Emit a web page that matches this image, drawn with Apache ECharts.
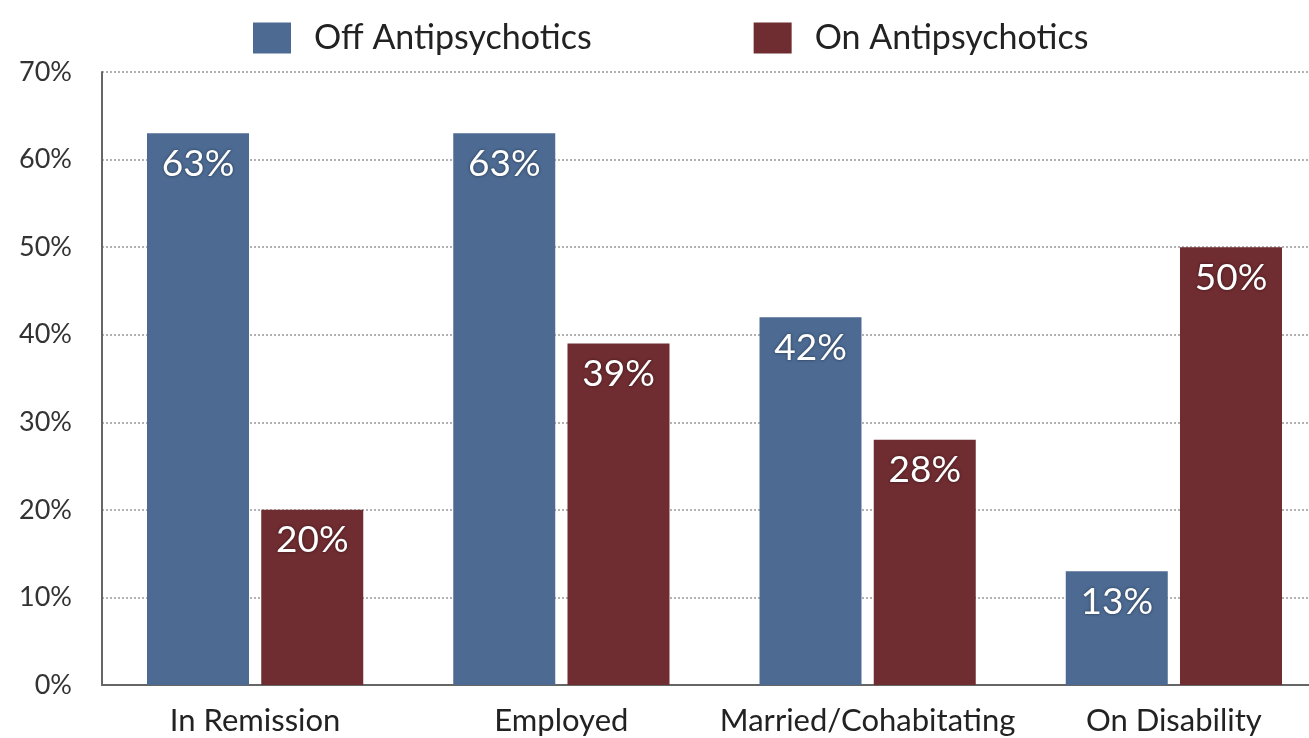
<!DOCTYPE html>
<html>
<head>
<meta charset="utf-8">
<script src="https://cdn.jsdelivr.net/npm/echarts@6/dist/echarts.min.js"></script>
<style>html,body{margin:0;padding:0;background:#fff;}#c{width:1309px;height:738px;}</style>
</head>
<body>
<div id="c"></div>
<script>
const categories = ['In Remission', 'Employed', 'Married/Cohabitating', 'On Disability'];
const offAntipsychotics = [63, 63, 42, 13];
const onAntipsychotics = [20, 39, 28, 50];
const seriesNames = ['Off Antipsychotics', 'On Antipsychotics'];

const chart = echarts.init(document.getElementById('c'));
const font = 'Lato, "Open Sans", sans-serif';
const labelCfg = {
  show: true, position: 'insideTop', distance: 12,
  color: '#fff', fontSize: 37, fontFamily: font,
  formatter: p => p.value + '%',
  textShadowColor: 'rgba(0,0,0,0.5)', textShadowBlur: 3
};
chart.setOption({
  animation: false,
  legend: {
    top: 16, left: 248, itemGap: 162, itemWidth: 38, itemHeight: 31, icon: 'rect',
    textStyle: { fontSize: 34, fontFamily: font, color: '#222', padding: [0, 0, 0, 18] },
    data: seriesNames
  },
  grid: { left: 102, width: 1225, top: 72, bottom: 53, containLabel: false, outerBoundsMode: 'none' },
  xAxis: {
    type: 'category', data: categories,
    axisLine: { lineStyle: { color: '#666', width: 2 } },
    axisTick: { show: false },
    axisLabel: { fontSize: 31, fontFamily: font, color: '#222', margin: 20, interval: 0 }
  },
  yAxis: {
    type: 'value', min: 0, max: 70, interval: 10,
    axisLine: { show: true, lineStyle: { color: '#666', width: 2 } },
    axisTick: { show: false },
    axisLabel: { formatter: '{value}%', fontSize: 27, fontFamily: font, color: '#333', margin: 30 },
    splitLine: { lineStyle: { color: '#999', type: [2, 2], width: 1.5 } }
  },
  series: [
    { name: seriesNames[0], type: 'bar', data: offAntipsychotics, barWidth: 102, barGap: '12%',
      itemStyle: { color: '#4c6a92' }, label: labelCfg },
    { name: seriesNames[1], type: 'bar', data: onAntipsychotics, barWidth: 102,
      itemStyle: { color: '#6f2c31' }, label: labelCfg }
  ]
});
</script>
</body>
</html>
